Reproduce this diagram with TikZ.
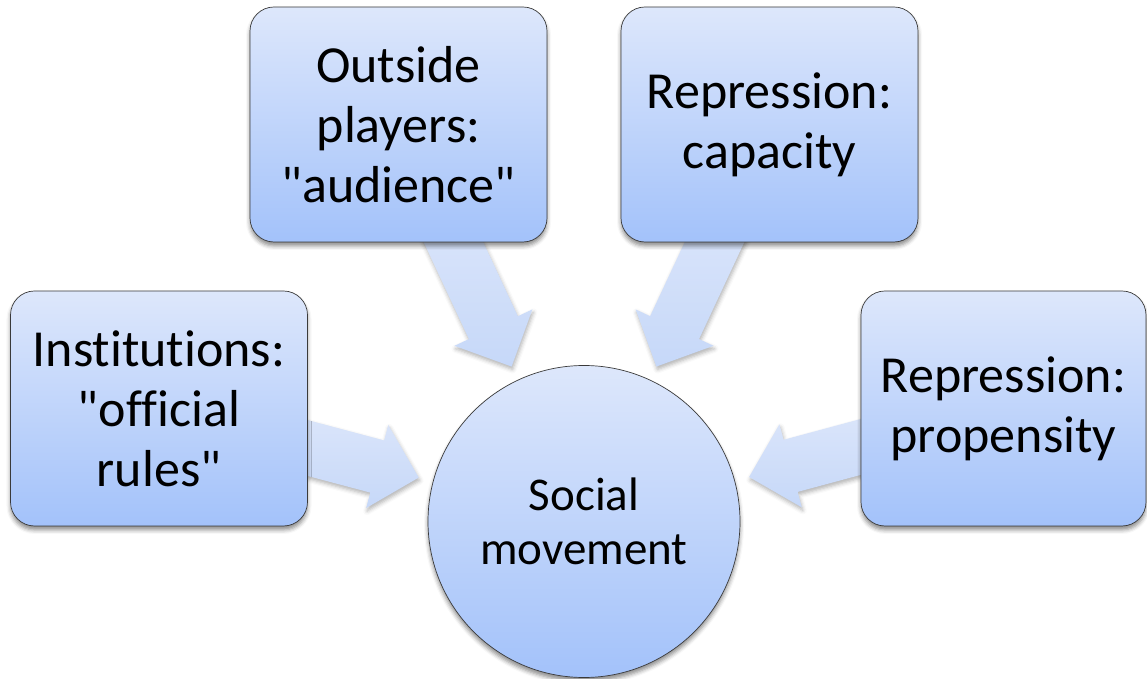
\documentclass[tikz,border=0pt]{standalone}
\usepackage{fontspec}
\setmainfont{Carlito}[Ligatures={TeXOff,CommonOff}]
\usetikzlibrary{calc, backgrounds, shadows.blur}
\definecolor{Pale_Top}{HTML}{DDE7FB}
\definecolor{Pale_Bottom}{HTML}{A3C2FA}
\definecolor{Arrow_Top}{HTML}{DCE6FA}
\definecolor{Arrow_Bottom}{HTML}{C6D8F9}
\definecolor{Edge_Gray}{HTML}{3A3A3A}

\tikzset{
  factor/.style={rectangle, rounded corners=24pt, draw=Edge_Gray, line width=0.7pt,
    top color=Pale_Top, bottom color=Pale_Bottom,
    minimum width=297pt, minimum height=235pt, inner sep=0pt, align=center,
    font=\fontsize{52}{60}\selectfont,
    blur shadow={shadow xshift=0pt, shadow yshift=-4pt, shadow blur radius=4pt, shadow opacity=45}},
  hub/.style={circle, draw=Edge_Gray, line width=0.7pt,
    top color=Pale_Top, bottom color=Pale_Bottom,
    minimum size=312pt, inner sep=0pt, align=center,
    font=\fontsize{47}{54}\selectfont,
    blur shadow={shadow xshift=0pt, shadow yshift=-4pt, shadow blur radius=4pt, shadow opacity=45}},
  push/.style={top color=Arrow_Top, bottom color=Arrow_Bottom,
    blur shadow={shadow xshift=1pt, shadow yshift=-3pt, shadow blur radius=4pt, shadow opacity=30}}
}

% block arrow from a factor box into the hub
\newcommand{\pushto}[1]{%
  \path[push]
    ($(sm.center)!171pt!(#1.center)$)
    -- ($(sm.center)!214pt!(#1.center)!43pt!90:(#1.center)$)
    -- ($(sm.center)!214pt!(#1.center)!27pt!90:(#1.center)$)
    -- ($(sm.center)!340pt!(#1.center)!27pt!90:(#1.center)$)
    -- ($(sm.center)!340pt!(#1.center)!27pt!-90:(#1.center)$)
    -- ($(sm.center)!214pt!(#1.center)!27pt!-90:(#1.center)$)
    -- ($(sm.center)!214pt!(#1.center)!43pt!-90:(#1.center)$)
    -- cycle;}

\begin{document}
\begin{tikzpicture}[x=1pt, y=1pt]

    \useasboundingbox (0,0) rectangle (1147,679);

    % === Centre ===
    \node[hub] (sm) at (584,157.5) {Social\\movement};

    % === Upper row ===
    \node[factor] (outside) at (398.5,554.5) {Outside\\players:\\"audience"};
    \node[factor] (capacity) at (769.5,554.5) {Repression:\\capacity};

    % === Lower row ===
    \node[factor] (rules) at (159,270.5) {Institutions:\\"official\\rules"};
    \node[factor, minimum width=285pt] (propensity) at (1003.5,270.5) {Repression:\\propensity};

    % === Arrows, kept behind the boxes ===
    \begin{scope}[on background layer]
        \pushto{outside}
        \pushto{capacity}
        \pushto{rules}
        \pushto{propensity}
    \end{scope}

\end{tikzpicture}
\end{document}
